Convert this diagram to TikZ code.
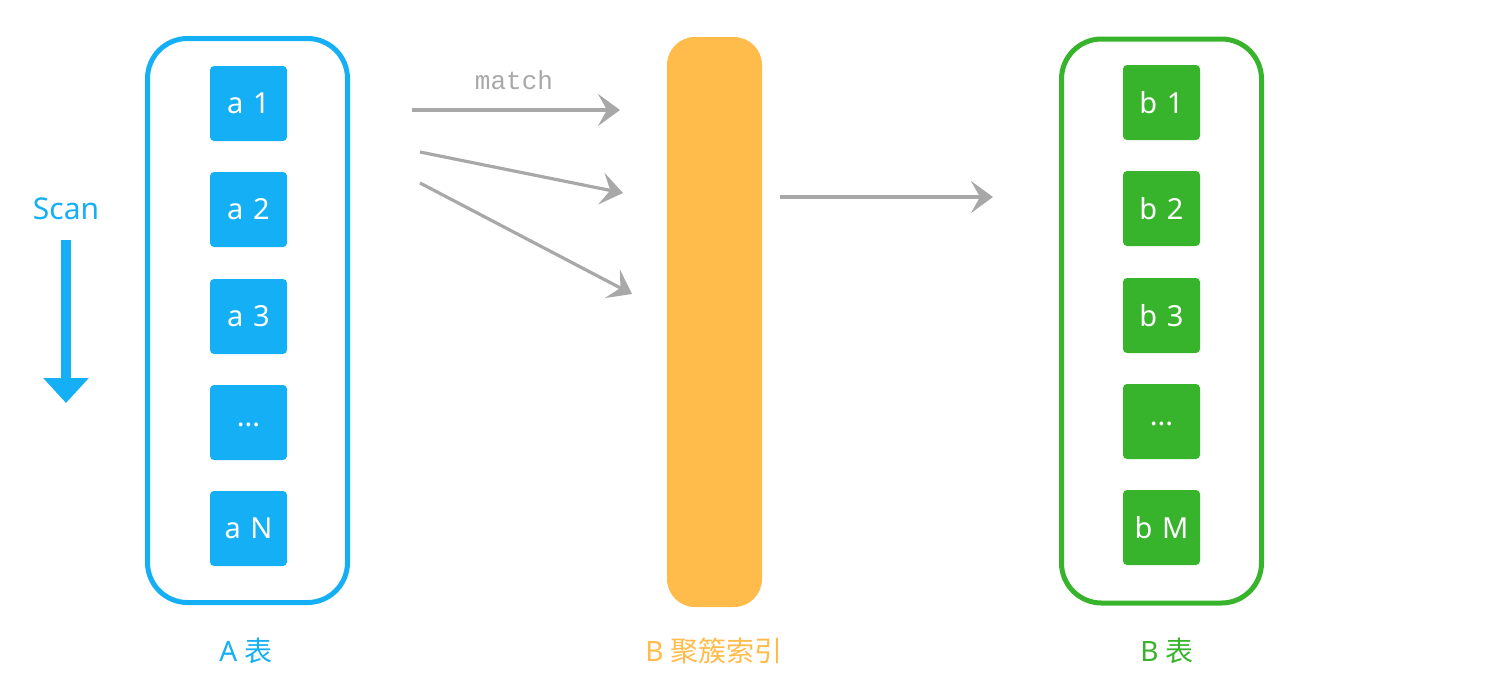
\documentclass[tikz,border=0pt]{standalone}
\usepackage{fontspec}
\setmainfont{Noto Sans}
\newfontfamily\cjk{Noto Sans CJK SC}
\setmonofont{Liberation Mono}
\usetikzlibrary{arrows.meta}
\definecolor{cblue}{HTML}{14AFF4}
\definecolor{cgreen}{HTML}{38B42C}
\definecolor{corange}{HTML}{FFBC4A}
\definecolor{cgray}{HTML}{A8A8A8}
\tikzset{
  container/.style={draw=#1, line width=2.5pt, rounded corners=20pt,
    minimum width=100pt, minimum height=282pt, inner sep=0pt},
  cell/.style={fill=#1, rounded corners=2pt, minimum width=38.5pt,
    minimum height=37.5pt, inner sep=0pt, text=white, font=\fontsize{14.5}{16}\selectfont},
  matcharrow/.style={draw=cgray, line width=1.6pt,
    -{Stealth[length=11pt, width=16pt, inset=4.5pt]}},
  caption/.style={font=\fontsize{14}{16}\selectfont, text=#1},
}
\begin{document}
\begin{tikzpicture}[x=0.5pt, y=-0.5pt]
\useasboundingbox (0,0) rectangle (1500,692);
% A table
\node[container=cblue] (A) at (247.5,320.5) {};
\node[cell=cblue] (a1) at (248.5,103.5) {a\,\,1};
\node[cell=cblue] (a2) at (248.5,209.5) {a\,\,2};
\node[cell=cblue] (a3) at (248.5,316.5) {a\,\,3};
\node[cell=cblue] (a4) at (248.5,422.5) {\raisebox{-0.5ex}{...}};
\node[cell=cblue] (aN) at (248.5,528.5) {a\,\,N};
% Scan
\node[caption=cblue, font=\fontsize{15}{17}\selectfont] (scan) at (66,209) {Scan};
\coordinate (s1) at (66,240);
\coordinate (s2) at (66,403);
\draw[cblue, line width=5pt, -{Triangle[length=12.5pt, width=22pt]}] (s1) -- (s2);
% B index bar
\node[fill=corange, rounded corners=14pt, minimum width=47.5pt,
  minimum height=285pt, inner sep=0pt] (idx) at (714.5,322) {};
% B table
\node[container=cgreen] (B) at (1161.5,321) {};
\node[cell=cgreen] (b1) at (1161.5,102.5) {b\,\,1};
\node[cell=cgreen] (b2) at (1161.5,208.5) {b\,\,2};
\node[cell=cgreen] (b3) at (1161.5,315.5) {b\,\,3};
\node[cell=cgreen] (b4) at (1161.5,421.5) {\raisebox{-0.5ex}{...}};
\node[cell=cgreen] (bM) at (1161.5,527.5) {b\,\,M};
% arrows
\coordinate (p1) at (412,110);
\coordinate (q1) at (620,110);
\coordinate (p2) at (420,152);
\coordinate (q2) at (623,193);
\coordinate (p3) at (420,183);
\coordinate (q3) at (632,294);
\coordinate (p4) at (780,197);
\coordinate (q4) at (993,197);
\draw[matcharrow] (p1) -- (q1);
\draw[matcharrow] (p2) -- (q2);
\draw[matcharrow] (p3) -- (q3);
\draw[matcharrow] (p4) -- (q4);
\node[text=cgray, font=\ttfamily\fontsize{13}{15}\selectfont] (match) at (514,80) {match};
% captions
\node[caption=cblue] (capA) at (246,651) {A {\cjk 表}};
\node[caption=corange] (capI) at (714,651) {B {\cjk 聚簇索引}};
\node[caption=cgreen] (capB) at (1167,651) {B {\cjk 表}};
\end{tikzpicture}
\end{document}
